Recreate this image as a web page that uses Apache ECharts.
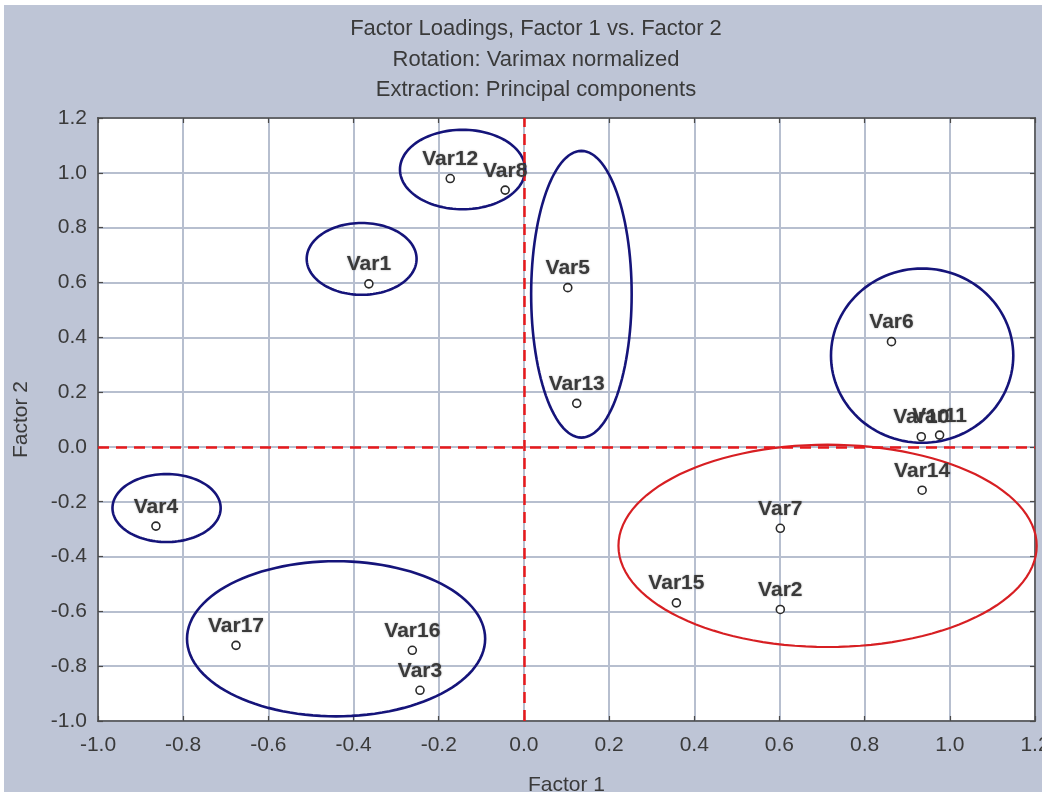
<!DOCTYPE html>
<html>
<head>
<meta charset="utf-8">
<script src="https://cdn.jsdelivr.net/npm/echarts@6/dist/echarts.min.js"></script>
<style>
html,body{margin:0;padding:0;background:#fff;}
#chart{width:1042px;height:796px;}
</style>
</head>
<body>
<div id="chart"></div>
<script>
// ---- data ----
var varNames = ['Var1','Var12','Var8','Var5','Var13','Var6','Var10','Var11','Var14','Var7','Var2','Var15','Var4','Var17','Var16','Var3'];
var factor1 = [-0.364,-0.173,-0.044,0.103,0.124,0.863,0.933,0.976,0.935,0.602,0.602,0.358,-0.864,-0.676,-0.262,-0.244];
var factor2 = [0.595,0.979,0.937,0.581,0.159,0.384,0.037,0.043,-0.158,-0.297,-0.593,-0.569,-0.289,-0.724,-0.742,-0.888];

// annotation ellipses: centre x, centre y, radius x, radius y (data units)
var ellipseCx = [-0.381,-0.144,0.135,0.935,0.713,-0.839,-0.441];
var ellipseCy = [0.686,1.012,0.557,0.333,-0.361,-0.223,-0.700];
var ellipseRx = [0.129,0.147,0.118,0.214,0.491,0.127,0.350];
var ellipseRy = [0.131,0.145,0.523,0.318,0.369,0.124,0.283];
var ellipseColor = ['navy','navy','navy','navy','red','navy','navy'];

var axisMin = -1.0, axisMax = 1.2, axisStep = 0.2;
var titleLines = ['Factor Loadings, Factor 1 vs. Factor 2','Rotation: Varimax normalized','Extraction: Principal components'];
var xName = 'Factor 1', yName = 'Factor 2';

// ---- build ----
var pts = varNames.map(function(n,i){ return [factor1[i], factor2[i], n]; });
var ells = ellipseCx.map(function(c,i){ return [c, ellipseCy[i], ellipseRx[i], ellipseRy[i], ellipseColor[i]]; });

function fmt(v){ if (Math.abs(v) < 1e-9) v = 0; return v.toFixed(1); }

var FONT = 'Liberation Sans, Arial, sans-serif';
var textColor = '#3a3a3a';
var gridCol = '#b7bfcf';
var bgCol = '#bec5d6';

var chart = echarts.init(document.getElementById('chart'), null, {renderer:'canvas'});

var baseAxis = {
  min: axisMin, max: axisMax, interval: axisStep,
  axisLine: {show:true, onZero:false, lineStyle:{color:'#4a4a4a', width:1.5}},
  axisTick: {show:true, inside:true, length:5, lineStyle:{color:'#4a4a4a', width:1.2}},
  splitLine: {show:false}
};

chart.setOption({
  backgroundColor: '#ffffff',
  animation: false,
  graphic: [{
    type:'rect', z:-10, silent:true,
    shape:{x:4, y:5, width:1038, height:787},
    style:{fill:bgCol}
  }],
  title: {
    text: titleLines.join('\n'),
    left: 531, top: 9, textAlign:'center',
    textStyle: {fontFamily:FONT, fontSize:22, fontWeight:'normal', color:textColor, lineHeight:30.5}
  },
  grid: {
    left: 98, right: 7, top: 118, bottom: 75,
    outerBoundsMode: 'none', containLabel: false,
    show: true, backgroundColor:'#ffffff', borderColor:'#4a4a4a', borderWidth:1.5
  },
  xAxis: [
    Object.assign({}, baseAxis, {
      type:'value', position:'bottom',
      name: xName, nameLocation:'middle', nameGap: 54,
      nameTextStyle:{fontFamily:FONT, fontSize:21, color:textColor},
      axisLabel:{formatter:fmt, margin:14, fontFamily:FONT, fontSize:21, color:textColor, showMinLabel:true, showMaxLabel:true},
      splitLine:{show:true, lineStyle:{color:gridCol, width:2}}
    }),
    Object.assign({}, baseAxis, {
      type:'value', position:'top', axisLabel:{show:false}
    })
  ],
  yAxis: [
    Object.assign({}, baseAxis, {
      type:'value', position:'left',
      name: yName, nameLocation:'middle', nameGap: 66,
      nameTextStyle:{fontFamily:FONT, fontSize:21, color:textColor},
      axisLabel:{formatter:fmt, margin:11, fontFamily:FONT, fontSize:21, color:textColor, showMinLabel:true, showMaxLabel:true},
      splitLine:{show:true, lineStyle:{color:gridCol, width:2}}
    }),
    Object.assign({}, baseAxis, {
      type:'value', position:'right', axisLabel:{show:false}
    })
  ],
  series: [
    {
      type:'scatter',
      data: pts,
      symbol:'circle', symbolSize:8,
      z: 5,
      itemStyle:{color:'#ffffff', borderColor:'#2a2a2a', borderWidth:1.6, opacity:1},
      label:{
        show:true, position:'top', distance:4,
        formatter:function(p){ return p.data[2]; },
        fontFamily:FONT, fontSize:21, fontWeight:'bold', color:'#3a3a3a',
        textShadowColor:'rgba(0,0,0,0.35)', textShadowBlur:2
      },
      labelLayout:{hideOverlap:false},
      emphasis:{disabled:true},
      markLine:{
        silent:true, symbol:['none','none'], label:{show:false},
        lineStyle:{color:'#e8191b', type:[11,7], width:2.5},
        data:[{xAxis:0},{yAxis:0}]
      }
    },
    {
      type:'custom',
      data: ells,
      z: 4,
      clip: false,
      renderItem: function(params, api){
        var cx = api.value(0), cy = api.value(1), rx = api.value(2), ry = api.value(3);
        var col = ells[params.dataIndex][4] === 'red' ? '#d71f23' : '#15147a';
        var pointsArr = [];
        for (var k = 0; k < 120; k++) {
          var t = k / 120 * Math.PI * 2;
          pointsArr.push(api.coord([cx + rx * Math.cos(t), cy + ry * Math.sin(t)]));
        }
        return {
          type:'polygon',
          shape:{points:pointsArr},
          style:{fill:'none', stroke:col, lineWidth: col === '#d71f23' ? 2.2 : 2.6}
        };
      },
      encode:{x:0, y:1},
      silent:true
    }
  ]
});
</script>
</body>
</html>
